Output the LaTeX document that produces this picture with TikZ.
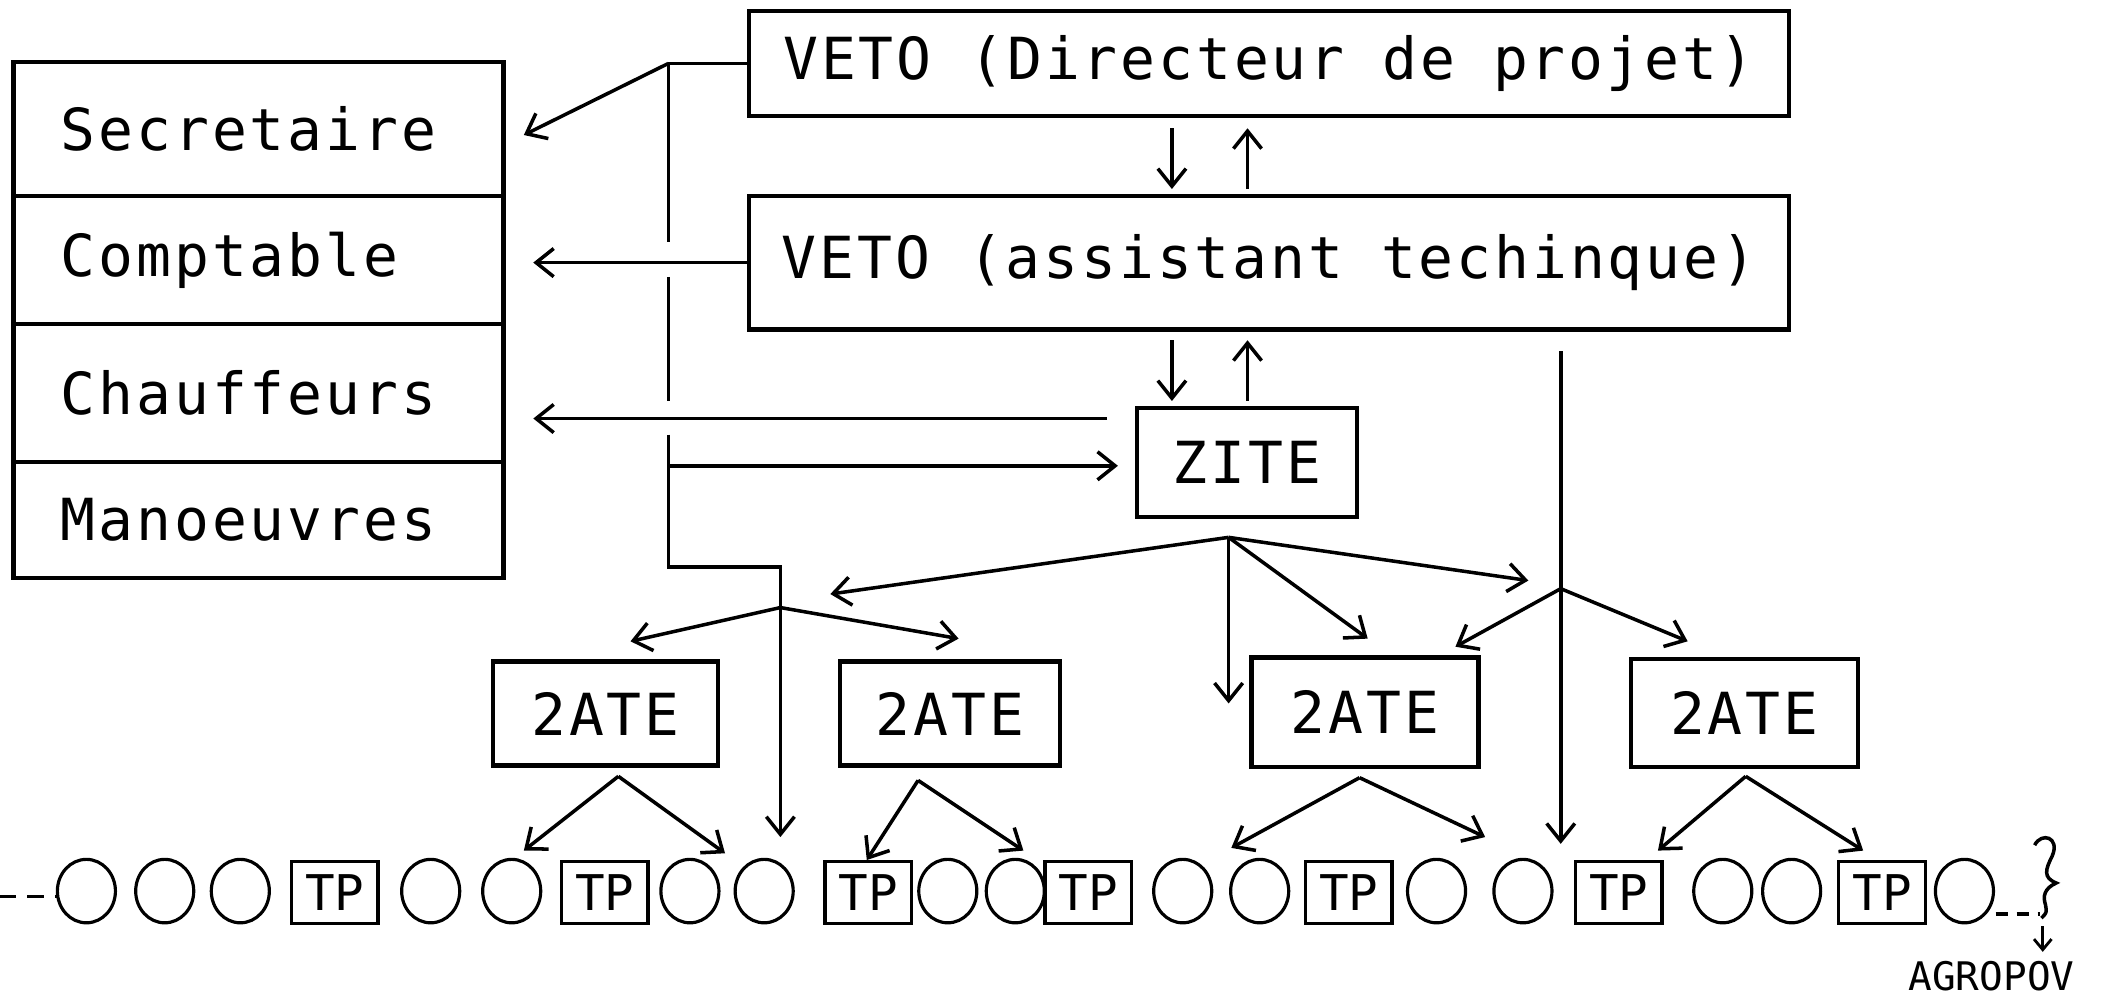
\documentclass[tikz,border=0pt]{standalone}
\usepackage{fontspec}
\setmainfont{DejaVu Sans Mono}
\newfontfamily\plotfont[LetterSpace=5]{DejaVu Sans Mono}
\newfontfamily\smallplot{DejaVu Sans Mono}
\usetikzlibrary{arrows.meta,shapes.geometric}
\def\dpx{0.135mm}
\tikzset{
  box/.style={draw, line width=1.2pt, rectangle, inner sep=0pt, font=\plotfont\fontsize{16.5}{19}\selectfont},
  cell/.style={draw, line width=1.2pt, rectangle, inner ysep=0pt, inner xsep=35*\dpx,
    text width=293*\dpx, align=left, font=\plotfont\fontsize{16.5}{19}\selectfont},
  ln/.style={line width=1pt},
  arr/.style={line width=1pt, -{Straight Barb[length=5pt,width=8pt,line width=1pt]}},
  sarr/.style={line width=0.8pt, -{Straight Barb[length=3pt,width=5pt,line width=0.8pt]}},
  el/.style={draw, ellipse, line width=0.9pt, inner sep=0pt, minimum width=43*\dpx, minimum height=47*\dpx},
  tp/.style={draw, rectangle, line width=0.9pt, inner sep=0pt, minimum width=64*\dpx, minimum height=46*\dpx,
    font=\smallplot\fontsize{14}{16}\selectfont},
  ate/.style={box},
}
\begin{document}
\begin{tikzpicture}[x=0.135mm, y=-0.135mm]
\useasboundingbox (0,0) rectangle (1568,737);
% left stacked box
\node[cell, minimum height=99*\dpx] (sec) at (191.5,95.5) {Secretaire};
\node[cell, minimum height=95*\dpx] (com) at (191.5,192.5) {Comptable};
\node[cell, minimum height=102*\dpx] (cha) at (191.5,291) {Chauffeurs};
\node[cell, minimum height=86*\dpx] (man) at (191.5,385) {Manoeuvres};
% VETO boxes
\node[box, minimum width=770*\dpx, minimum height=78*\dpx] (vd) at (940,47) {VETO (Directeur de projet)};
\node[box, minimum width=770*\dpx, minimum height=99*\dpx] (va) at (940,194.5) {VETO (assistant techinque)};
\node[box, minimum width=163*\dpx, minimum height=81*\dpx] (zite) at (923.5,342.5) {ZITE};
% 2ATE boxes
\node[ate, minimum width=167*\dpx, minimum height=77*\dpx] (a1) at (448.5,528.5) {2ATE};
\node[ate, minimum width=163*\dpx, minimum height=77*\dpx] (a2) at (703.5,528.5) {2ATE};
\node[ate, minimum width=168*\dpx, minimum height=81*\dpx] (a3) at (1011,527.5) {2ATE};
\node[ate, minimum width=168*\dpx, minimum height=80*\dpx] (a4) at (1292,528) {2ATE};
% bottom row
\foreach \i/\x in {1/64,2/122,3/178,4/319,5/379,6/511,7/566,8/702,9/752,10/876,11/933,12/1064,13/1128,14/1276,15/1327,16/1455}
  \node[el] (e\i) at (\x,660) {};
\foreach \i/\x in {1/248,2/448,3/643,4/806,5/999,6/1199,7/1394}
  \node[tp] (t\i) at (\x,661) {TP};
% coordinates
\coordinate (d1s) at (868,95);  \coordinate (d1e) at (868,140);
\coordinate (u1s) at (924,140); \coordinate (u1e) at (924,95);
\coordinate (d2s) at (868,252); \coordinate (d2e) at (868,297);
\coordinate (u2s) at (924,297); \coordinate (u2e) at (924,252);
\coordinate (L0) at (495,47);
\coordinate (secA) at (388,100);
\coordinate (comA) at (395,194.5);
\coordinate (chS) at (820,310);
\coordinate (chA) at (395,310);
\coordinate (zS) at (495,345);
\coordinate (zA) at (828,345);
\coordinate (L1) at (495,420);
\coordinate (L2) at (578,420);
\coordinate (lj) at (578,450);
\coordinate (Lend) at (578,620);
\coordinate (lja) at (467,475);
\coordinate (ljb) at (710,473);
\coordinate (zf) at (910,398);
\coordinate (zfa) at (615,440);
\coordinate (zfb) at (1132,430);
\coordinate (zfc) at (1013,473);
\coordinate (zfd) at (910,521);
\coordinate (rtop) at (1156,260);
\coordinate (rj) at (1156,436);
\coordinate (rbot) at (1156,625);
\coordinate (rja) at (1078,479);
\coordinate (rjb) at (1250,475);
\coordinate (p1) at (458,575); \coordinate (p1a) at (388,630); \coordinate (p1b) at (537,632);
\coordinate (p2) at (680,578); \coordinate (p2a) at (642,637); \coordinate (p2b) at (758,630);
\coordinate (p3) at (1007,576); \coordinate (p3a) at (912,628); \coordinate (p3b) at (1100,620);
\coordinate (p4) at (1293,575); \coordinate (p4a) at (1228,630); \coordinate (p4b) at (1380,630);
\coordinate (dl0) at (0,664);
\coordinate (dl1) at (42,664);
\coordinate (dr0) at (1478,677);
\coordinate (dr1) at (1511,677);
\coordinate (ag0) at (1513,686);
\coordinate (ag1) at (1513,705);
% VETO arrows
\draw[arr] (d1s) -- (d1e);
\draw[arr] (u1s) -- (u1e);
\draw[arr] (d2s) -- (d2e);
\draw[arr] (u2s) -- (u2e);
% left trunk
\draw[ln] (vd.west) -- (L0);
\draw[arr] (L0) -- (secA);
\draw[ln] (L0) -- (495,179);
\draw[ln] (495,205) -- (495,297);
\draw[ln] (495,322) -- (L1) -- (L2) -- (lj);
\draw[arr] (lj) -- (Lend);
\draw[arr] (va.west) -- (comA);
\draw[arr] (chS) -- (chA);
\draw[arr] (zS) -- (zA);
\draw[arr] (lj) -- (lja);
\draw[arr] (lj) -- (ljb);
% ZITE fan
\draw[arr] (zf) -- (zfa);
\draw[arr] (zf) -- (zfb);
\draw[arr] (zf) -- (zfc);
\draw[arr] (zf) -- (zfd);
% right trunk
\draw[ln] (rtop) -- (rj);
\draw[arr] (rj) -- (rbot);
\draw[arr] (rj) -- (rja);
\draw[arr] (rj) -- (rjb);
% 2ATE fans
\draw[arr] (p1) -- (p1a); \draw[arr] (p1) -- (p1b);
\draw[arr] (p2) -- (p2a); \draw[arr] (p2) -- (p2b);
\draw[arr] (p3) -- (p3a); \draw[arr] (p3) -- (p3b);
\draw[arr] (p4) -- (p4a); \draw[arr] (p4) -- (p4b);
% dashed ends
\draw[ln, dash pattern=on 4.6pt off 3.2pt] (dl0) -- (dl1);
\draw[ln, dash pattern=on 3.6pt off 2.4pt] (dr0) -- (dr1);
% brace
\draw[line width=1pt] (1507,626) .. controls (1512,616) and (1526,620) .. (1520,634)
  .. controls (1515,644) and (1513,650) .. (1523,654)
  .. controls (1514,658) and (1513,664) .. (1515,670)
  .. controls (1516,676) .. (1512,680);
\draw[sarr] (ag0) -- (ag1);
\node[font=\smallplot\fontsize{11.2}{13}\selectfont, inner sep=0pt] (agro) at (1475,723) {AGROPOV};
\end{tikzpicture}
\end{document}
